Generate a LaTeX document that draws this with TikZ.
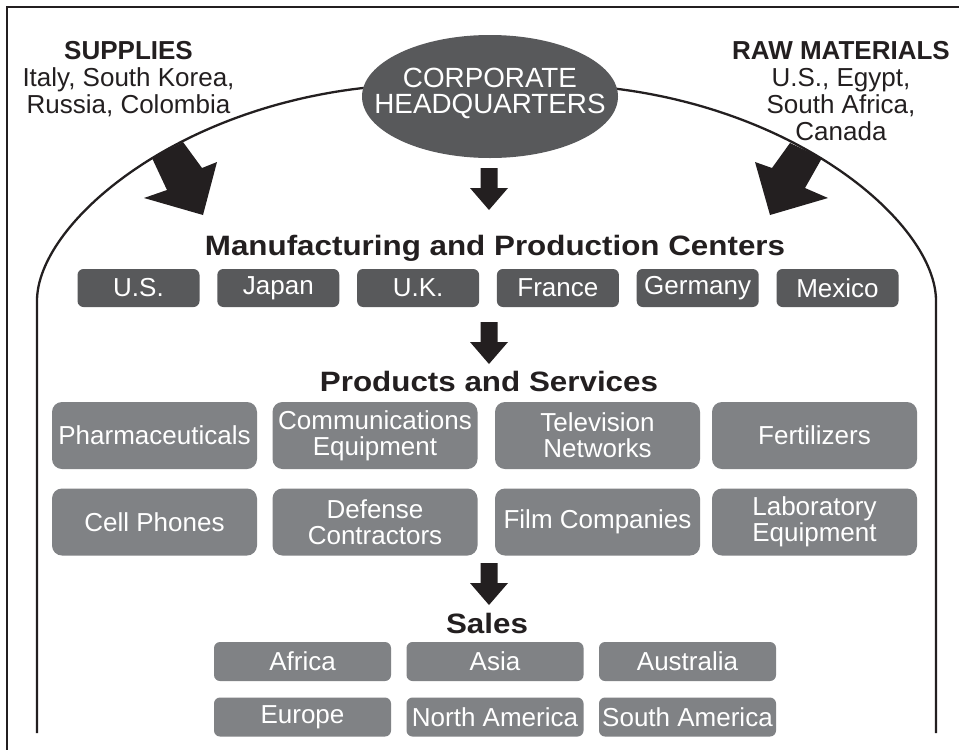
\documentclass[tikz,border=0pt]{standalone}
\usepackage{fontspec}
\setmainfont{Liberation Sans}
\usepackage{graphicx}
\usetikzlibrary{shapes.geometric}
\definecolor{ink}{HTML}{231F20}
\definecolor{darkbox}{HTML}{58595B}
\definecolor{midbox}{HTML}{808285}
\tikzset{
  frameline/.style={draw=ink, line width=2pt},
  archline/.style={draw=ink, line width=2.3pt},
  mbox/.style={fill=darkbox, rounded corners=6pt, minimum width=122pt, minimum height=38pt,
    text=white, inner sep=0pt, font=\fontsize{26pt}{26pt}\selectfont},
  pbox/.style={fill=midbox, rounded corners=10pt, minimum width=205pt, minimum height=67pt,
    text=white, inner sep=0pt, align=center, font=\fontsize{26pt}{26pt}\selectfont},
  sbox/.style={fill=midbox, rounded corners=6pt, minimum width=177pt, minimum height=39pt,
    text=white, inner sep=0pt, font=\fontsize{26pt}{26pt}\selectfont},
  headtext/.style={text=ink, inner sep=0pt, anchor=base, font=\fontsize{28pt}{28pt}\selectfont\bfseries},
  sidetext/.style={text=ink, inner sep=0pt, anchor=north, align=center, font=\fontsize{26pt}{27pt}\selectfont},
  downarrow/.pic={\fill[ink] (-8.5,0) -- (8.5,0) -- (8.5,20) -- (19,20) -- (0,42) -- (-19,20) -- (-8.5,20) -- cycle;}
}
\begin{document}
\begin{tikzpicture}[x=1pt,y=-1pt]
\useasboundingbox (0,0) rectangle (959,750);
\fill[white] (0,0) rectangle (959,750);
\draw[frameline] (7,750) -- (7,7) -- (959,7);

% arch
\draw[archline] (37,733) -- (37,300) .. controls (38,225) and (170,110) .. (363,88)
  -- (610,88) .. controls (803,110) and (935,225) .. (936,300) -- (936,733);

% big incoming arrows
\fill[ink] (152,158) -- (167,190) -- (144,198) -- (203,215) -- (217,162) -- (202,168) -- (183,142) -- cycle;
\fill[ink] (822,158) -- (805,188) -- (828,198) -- (770,215) -- (755,162) -- (772,168) -- (790,143) -- cycle;

% headquarters
\node[ellipse, fill=darkbox, minimum width=256pt, minimum height=123pt, inner sep=0pt] (hq) at (490,96.5) {};
\node[text=white, inner sep=0pt, align=center, font=\fontsize{27.8pt}{26.5pt}\selectfont] (hqt) at (490,93.5) {CORPORATE\\HEADQUARTERS};

% side labels
\node[sidetext] (sup) at (128.5,41.5) {\textbf{SUPPLIES}\\Italy, South Korea,\\Russia, Colombia};
\node[sidetext] (raw) at (841,41.5) {\textbf{RAW MATERIALS}\\U.S., Egypt,\\South Africa,\\Canada};

% headings
\node[headtext] (mh) at (495,255) {\scalebox{1.12}[1]{Manufacturing and Production Centers}};
\node[headtext] (ph) at (489,391) {\scalebox{1.12}[1]{Products and Services}};
\node[headtext] (sh) at (487,633) {\scalebox{1.12}[1]{Sales}};

% down arrows
\coordinate (a1) at (489,168);
\coordinate (a2) at (489,322);
\coordinate (a3) at (489,563);
\pic at (a1) {downarrow};
\pic at (a2) {downarrow};
\pic at (a3) {downarrow};

% manufacturing boxes
\node[mbox] (m1) at (138.5,288) {U.S.};
\node[mbox] (m2) at (278.3,288) {Japan};
\node[mbox] (m3) at (418.1,288) {U.K.};
\node[mbox] (m4) at (557.9,288) {France};
\node[mbox] (m5) at (697.7,288) {Germany};
\node[mbox] (m6) at (837.5,288) {Mexico};

% products
\node[pbox] (p1) at (154.5,435.5) {Pharmaceuticals};
\node[pbox] (p2) at (375,435.5) {Communications\\Equipment};
\node[pbox] (p3) at (597.5,435.5) {Television\\Networks};
\node[pbox] (p4) at (814.5,435.5) {Fertilizers};
\node[pbox] (p5) at (154.5,522) {Cell Phones};
\node[pbox] (p6) at (375,522) {Defense\\Contractors};
\node[pbox] (p7) at (597.5,522) {Film Companies};
\node[pbox] (p8) at (814.5,522) {Laboratory\\Equipment};

% sales
\node[sbox] (s1) at (302.5,661.5) {Africa};
\node[sbox] (s2) at (495,661.5) {Asia};
\node[sbox] (s3) at (687.5,661.5) {Australia};
\node[sbox] (s4) at (302.5,717) {Europe};
\node[sbox] (s5) at (495,717) {North America};
\node[sbox] (s6) at (687.5,717) {South America};
\end{tikzpicture}
\end{document}
